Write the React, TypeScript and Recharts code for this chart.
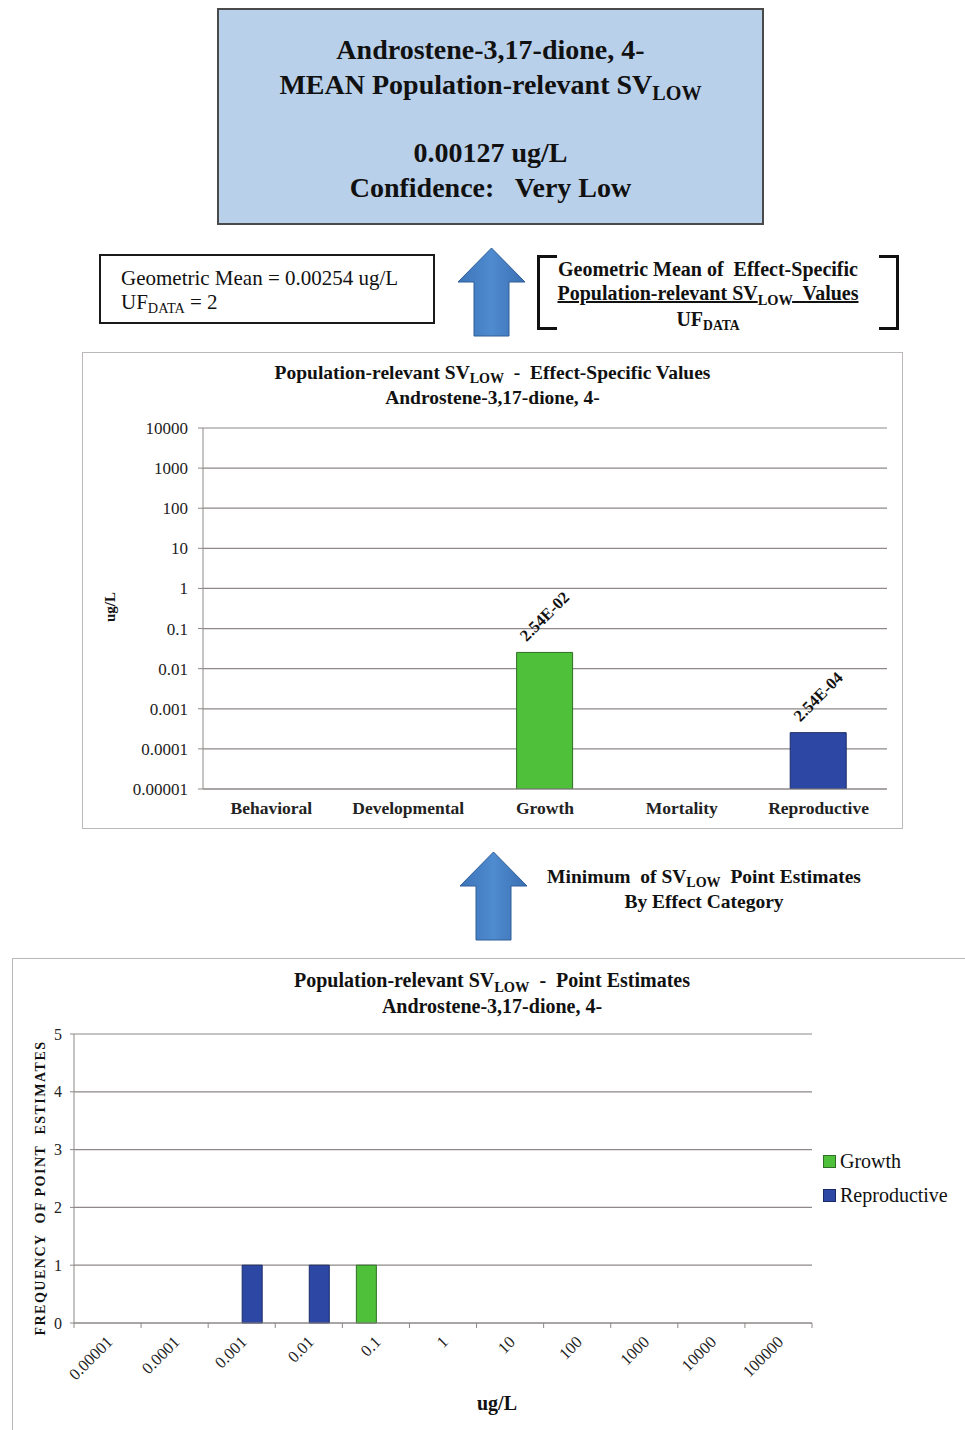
import React from 'react';
import { BarChart, Bar, XAxis, YAxis, CartesianGrid, Cell, LabelList } from 'recharts';

const SERIF = '"Liberation Serif", "Times New Roman", serif';

// effect-specific values (ug/L), one per effect category
const effectCategories = ['Behavioral', 'Developmental', 'Growth', 'Mortality', 'Reproductive'];
const effectValues: (number | null)[] = [null, null, 0.0254, null, 0.000254];
const logTicks = [0.00001, 0.0001, 0.001, 0.01, 0.1, 1, 10, 100, 1000, 10000];

// point-estimate histogram, one bin per decade
const binLabels = ['0.00001', '0.0001', '0.001', '0.01', '0.1', '1', '10', '100', '1000', '10000', '100000'];
const growthCounts = [0, 0, 0, 0, 1, 0, 0, 0, 0, 0, 0];
const reproductiveCounts = [0, 0, 1, 1, 0, 0, 0, 0, 0, 0, 0];
const freqTicks = [0, 1, 2, 3, 4, 5];

const COLORS: Record<string, { fill: string; stroke: string }> = {
  Growth: { fill: '#4fc03a', stroke: '#2f6e25' },
  Reproductive: { fill: '#2c47a4', stroke: '#1b2a66' },
};
const GRID = '#8e8888';

const effectData = effectCategories.map((name, i) => ({ name, value: effectValues[i] }));
const histData = binLabels.map((bin, i) => ({
  bin,
  Growth: growthCounts[i],
  Reproductive: reproductiveCounts[i],
}));
const histSeries = ['Growth', 'Reproductive'];

const fmtTick = (v: number) => (v < 1 ? v.toFixed(Math.round(-Math.log10(v))) : String(v));

const fmtSci = (v: number) => {
  const [m, e] = v.toExponential(2).split('e');
  const n = parseInt(e, 10);
  return `${m}E${n < 0 ? '-' : '+'}${String(Math.abs(n)).padStart(2, '0')}`;
};

const Low = () => (
  <span style={{ fontSize: '0.72em', position: 'relative', top: '0.32em' }}>LOW</span>
);
const Data = () => (
  <span style={{ fontSize: '0.68em', position: 'relative', top: '0.3em' }}>DATA</span>
);

const Arrow = ({ left, top }: { left: number; top: number }) => (
  <svg style={{ position: 'absolute', left, top }} width={69} height={90}>
    <defs>
      <linearGradient id={`ag${top}`} x1="0" x2="1" y1="0" y2="0">
        <stop offset="0" stopColor="#3d74b8" />
        <stop offset="0.5" stopColor="#4f8bcf" />
        <stop offset="1" stopColor="#3a6fb2" />
      </linearGradient>
    </defs>
    <polygon
      points="1,35 34.5,1 68,35 52,35 52,89 17,89 17,35"
      fill={`url(#ag${top})`}
      stroke="#2f5e98"
      strokeWidth={1}
    />
  </svg>
);

const renderValueLabel = (props: any) => {
  const { x, y, width, value } = props;
  if (value == null) return null;
  const cx = Number(x) + Number(width) / 2;
  const cy = Number(y) - 36;
  return (
    <text
      x={cx}
      y={cy}
      textAnchor="middle"
      dominantBaseline="central"
      transform={`rotate(-45 ${cx} ${cy})`}
      fontFamily={SERIF}
      fontWeight="bold"
      fontSize={16.5}
      fill="#111"
    >
      {fmtSci(Number(value))}
    </text>
  );
};

// rotated bin label plus a tick mark on each bin boundary
const BinTick = (props: any) => {
  const { x, y, payload, index, width } = props;
  const half = Number(width) / binLabels.length / 2;
  const axisY = y - 7;
  const last = index === binLabels.length - 1;
  return (
    <g>
      <line x1={x - half} x2={x - half} y1={axisY} y2={axisY + 5} stroke={GRID} />
      {last && <line x1={x + half} x2={x + half} y1={axisY} y2={axisY + 5} stroke={GRID} />}
      <g transform={`translate(${x + 6},${y + 13})`}>
        <text
          x={0}
          y={0}
          textAnchor="end"
          transform="rotate(-45)"
          fontFamily={SERIF}
          fontSize={16.5}
          fill="#222"
        >
          {payload.value}
        </text>
      </g>
    </g>
  );
};

const abs = (left: number, top: number, extra: React.CSSProperties = {}): React.CSSProperties => ({
  position: 'absolute',
  left,
  top,
  ...extra,
});

export default function App() {
  return (
    <div
      style={{
        position: 'absolute',
        left: 0,
        top: 0,
        width: 965,
        height: 1430,
        overflow: 'hidden',
        background: '#fff',
        fontFamily: SERIF,
        color: '#111',
      }}
    >
      {/* summary box */}
      <div
        style={abs(217, 8, {
          width: 547,
          height: 217,
          boxSizing: 'border-box',
          border: '2px solid #4a4a4a',
          background: '#b9d0ea',
          textAlign: 'center',
          fontWeight: 'bold',
          fontSize: 28,
          lineHeight: '35px',
          paddingTop: 22,
        })}
      >
        <div>Androstene-3,17-dione, 4-</div>
        <div>
          MEAN Population-relevant SV<Low />
        </div>
        <div style={{ height: 30 }} />
        <div>0.00127 ug/L</div>
        <div>Confidence:&nbsp;&nbsp; Very Low</div>
      </div>

      {/* geometric mean box */}
      <div
        style={abs(99, 254, {
          width: 336,
          height: 70,
          boxSizing: 'border-box',
          border: '2px solid #1a1a1a',
          fontSize: 21,
          lineHeight: '24px',
          padding: '10px 0 0 20px',
          whiteSpace: 'nowrap',
        })}
      >
        <div>Geometric Mean = 0.00254 ug/L</div>
        <div>
          UF<Data /> = 2
        </div>
      </div>

      <Arrow left={457} top={247} />

      {/* formula in brackets */}
      <div style={abs(537, 255, { width: 20, height: 75, boxSizing: 'border-box', border: '3px solid #111', borderRight: 'none' })} />
      <div style={abs(879, 255, { width: 20, height: 75, boxSizing: 'border-box', border: '3px solid #111', borderLeft: 'none' })} />
      <div
        style={abs(547, 257, {
          width: 322,
          textAlign: 'center',
          fontWeight: 'bold',
          fontSize: 20,
          lineHeight: '24px',
          whiteSpace: 'nowrap',
        })}
      >
        <div>Geometric Mean of&nbsp; Effect-Specific</div>
        <div style={{ textDecoration: 'underline' }}>
          Population-relevant SV<Low />&nbsp; Values
        </div>
        <div>
          UF<Data />
        </div>
      </div>

      {/* effect-specific values chart */}
      <div style={abs(82, 352, { width: 821, height: 477, boxSizing: 'border-box', border: '1px solid #bdb8b8' })} />
      <div
        style={abs(82, 361, {
          width: 821,
          textAlign: 'center',
          fontWeight: 'bold',
          fontSize: 19.5,
          lineHeight: '24px',
        })}
      >
        <div>
          Population-relevant SV<Low />&nbsp; -&nbsp; Effect-Specific Values
        </div>
        <div>Androstene-3,17-dione, 4-</div>
      </div>
      <div
        style={abs(110, 607, {
          transform: 'translate(-50%, -50%) rotate(-90deg)',
          fontWeight: 'bold',
          fontSize: 15,
          whiteSpace: 'nowrap',
        })}
      >
        ug/L
      </div>
      <div style={abs(82, 352)}>
        <BarChart
          width={821}
          height={477}
          data={effectData}
          margin={{ top: 76, right: 16, bottom: 0, left: 0 }}
        >
          <CartesianGrid vertical={false} stroke={GRID} strokeWidth={1.2} />
          <XAxis
            dataKey="name"
            height={40}
            axisLine={{ stroke: GRID }}
            tickLine={false}
            tickMargin={7}
            tick={{ fontFamily: SERIF, fontWeight: 'bold', fontSize: 17.5, fill: '#222' }}
          />
          <YAxis
            type="number"
            scale="log"
            domain={[0.00001, 10000]}
            ticks={logTicks}
            allowDataOverflow
            width={121}
            tickFormatter={fmtTick}
            axisLine={{ stroke: GRID }}
            tickLine={{ stroke: GRID }}
            tickSize={5}
            tickMargin={10}
            tick={{ fontFamily: SERIF, fontSize: 17, fill: '#222' }}
          />
          <Bar dataKey="value" barSize={56} isAnimationActive={false}>
            {effectData.map((d) => (
              <Cell
                key={d.name}
                fill={(COLORS[d.name] || COLORS.Growth).fill}
                stroke={(COLORS[d.name] || COLORS.Growth).stroke}
              />
            ))}
            <LabelList dataKey="value" content={renderValueLabel} />
          </Bar>
        </BarChart>
      </div>

      <Arrow left={459} top={851} />
      <div
        style={abs(524, 865, {
          width: 360,
          textAlign: 'center',
          fontWeight: 'bold',
          fontSize: 19.5,
          lineHeight: '24px',
          whiteSpace: 'nowrap',
        })}
      >
        <div>
          Minimum&nbsp; of SV<Low />&nbsp; Point Estimates
        </div>
        <div>By Effect Category</div>
      </div>

      {/* point estimates histogram */}
      <div style={abs(12, 958, { width: 1000, height: 500, boxSizing: 'border-box', border: '1px solid #bdb8b8' })} />
      <div
        style={abs(12, 968, {
          width: 960,
          textAlign: 'center',
          fontWeight: 'bold',
          fontSize: 20,
          lineHeight: '24px',
        })}
      >
        <div>
          Population-relevant SV<Low />&nbsp; -&nbsp; Point Estimates
        </div>
        <div>Androstene-3,17-dione, 4-</div>
      </div>
      <div
        style={abs(41, 1188, {
          transform: 'translate(-50%, -50%) rotate(-90deg)',
          fontWeight: 'bold',
          fontSize: 14,
          letterSpacing: 1.5,
          whiteSpace: 'nowrap',
        })}
      >
        FREQUENCY&nbsp; OF POINT&nbsp; ESTIMATES
      </div>
      <div style={abs(497, 1403, { transform: 'translate(-50%, -50%)', fontWeight: 'bold', fontSize: 20 })}>
        ug/L
      </div>
      <div style={abs(12, 958)}>
        <BarChart
          width={953}
          height={472}
          data={histData}
          margin={{ top: 76, right: 153, bottom: 0, left: 0 }}
          barGap={0}
        >
          <CartesianGrid vertical={false} stroke={GRID} strokeWidth={1.2} />
          <XAxis
            dataKey="bin"
            height={107}
            interval={0}
            axisLine={{ stroke: GRID }}
            tickLine={false}
            tickSize={5}
            tickMargin={2}
            tick={<BinTick />}
          />
          <YAxis
            type="number"
            domain={[0, 5]}
            ticks={freqTicks}
            width={62}
            axisLine={{ stroke: GRID }}
            tickLine={{ stroke: GRID }}
            tickSize={4}
            tickMargin={8}
            tick={{ fontFamily: SERIF, fontSize: 16, fill: '#222' }}
          />
          {histSeries.map((s) => (
            <Bar
              key={s}
              dataKey={s}
              barSize={20}
              fill={COLORS[s].fill}
              stroke={COLORS[s].stroke}
              isAnimationActive={false}
            />
          ))}
        </BarChart>
      </div>
      <div style={abs(823, 1144, { fontSize: 20, lineHeight: '34px' })}>
        {histSeries.map((s) => (
          <div key={s} style={{ display: 'flex', alignItems: 'center' }}>
            <span
              style={{
                display: 'inline-block',
                width: 11,
                height: 11,
                background: COLORS[s].fill,
                border: `1px solid ${COLORS[s].stroke}`,
                marginRight: 4,
              }}
            />
            {s}
          </div>
        ))}
      </div>
    </div>
  );
}
